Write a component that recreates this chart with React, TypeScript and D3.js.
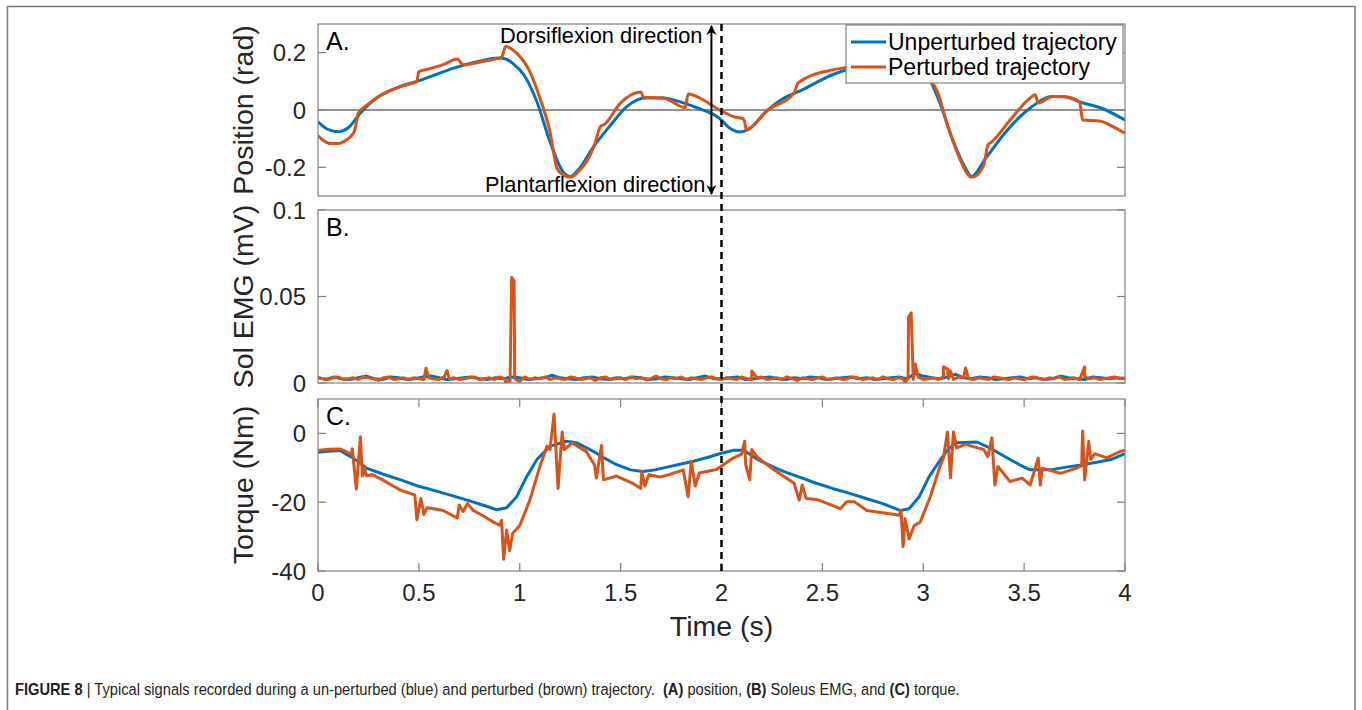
import { useRef, useEffect } from "react";
import * as d3 from "d3";

const timeTicks = [0, 0.5, 1, 1.5, 2, 2.5, 3, 3.5, 4];
const posTicks = [-0.2, 0, 0.2];
const emgTicks = [0, 0.05, 0.1];
const torqueTicks = [-40, -20, 0];

// Position (rad), [time s, value]
const posUnperturbed: [number, number][] = [
  [0, -0.041], [0.05, -0.068], [0.1, -0.076], [0.15, -0.062], [0.21, -0.01], [0.29, 0.042],
  [0.4, 0.08], [0.49, 0.1], [0.6, 0.128], [0.7, 0.152], [0.8, 0.17], [0.9, 0.181],
  [0.93, 0.178], [0.97, 0.16], [1.02, 0.123], [1.085, 0.029], [1.15, -0.111], [1.215, -0.216],
  [1.25, -0.232], [1.3, -0.2], [1.36, -0.134], [1.45, -0.053], [1.53, 0.012], [1.63, 0.043],
  [1.71, 0.042], [1.81, 0.025], [1.9, 0.002], [1.99, -0.029], [2.04, -0.063], [2.09, -0.077],
  [2.14, -0.064], [2.22, -0.006], [2.31, 0.042], [2.39, 0.067], [2.55, 0.123], [2.7, 0.155],
  [2.8, 0.17], [2.92, 0.18], [2.96, 0.165], [3.02, 0.123], [3.08, 0.029], [3.15, -0.111],
  [3.21, -0.204], [3.24, -0.232], [3.31, -0.168], [3.41, -0.076], [3.53, 0.007], [3.64, 0.047],
  [3.7, 0.046], [3.79, 0.025], [3.88, 0.007], [4.0, -0.035],
];
const posPerturbed: [number, number][] = [
  [0, -0.09], [0.03, -0.108], [0.06, -0.117], [0.1, -0.117], [0.125, -0.111], [0.18, -0.076],
  [0.2, -0.01], [0.23, 0.01], [0.29, 0.042], [0.4, 0.08], [0.49, 0.1], [0.5, 0.134],
  [0.55, 0.143], [0.62, 0.158], [0.69, 0.178], [0.72, 0.158], [0.82, 0.17], [0.91, 0.184],
  [0.93, 0.222], [0.96, 0.212], [0.99, 0.195], [1.05, 0.134], [1.1, 0.042], [1.15, -0.076],
  [1.185, -0.204], [1.215, -0.226], [1.25, -0.235], [1.29, -0.215], [1.33, -0.181], [1.37, -0.123],
  [1.4, -0.058], [1.42, -0.05], [1.5, 0.025], [1.6, 0.063], [1.615, 0.043], [1.71, 0.042],
  [1.82, 0.008], [1.835, 0.056], [1.91, 0.035], [1.99, 0.0], [2.06, -0.023], [2.11, -0.032],
  [2.125, -0.07], [2.16, -0.053], [2.22, -0.006], [2.36, 0.06], [2.38, 0.095], [2.55, 0.14],
  [2.62, 0.148], [2.75, 0.165], [2.88, 0.18], [2.92, 0.2], [2.97, 0.17], [3.03, 0.11],
  [3.07, 0.064], [3.12, -0.053], [3.14, -0.094], [3.18, -0.168], [3.24, -0.235], [3.3, -0.193],
  [3.32, -0.123], [3.34, -0.111], [3.45, -0.018], [3.53, 0.042], [3.555, 0.053], [3.57, 0.025],
  [3.64, 0.047], [3.7, 0.046], [3.775, 0.028], [3.79, -0.035], [3.88, -0.039], [3.94, -0.058],
  [4.0, -0.081],
];

// Soleus EMG (mV); unperturbed sampled every 0.04 s, perturbed every 0.025 s
const emgUnperturbed = [
  0.003, 0.002, 0.0035, 0.0025, 0.002, 0.003, 0.004, 0.0025, 0.002, 0.0035,
  0.003, 0.002, 0.0025, 0.0035, 0.004, 0.003, 0.002, 0.0025, 0.003, 0.0035,
  0.0025, 0.002, 0.003, 0.0025, 0.0035, 0.003, 0.002, 0.0025, 0.003, 0.0045,
  0.003, 0.0025, 0.002, 0.003, 0.0035, 0.0025, 0.002, 0.003, 0.0025, 0.0035,
  0.003, 0.002, 0.0025, 0.0035, 0.003, 0.0025, 0.002, 0.003, 0.004, 0.0025,
  0.0025, 0.003, 0.0035, 0.002, 0.0025, 0.003, 0.0035, 0.0025, 0.002, 0.003,
  0.0025, 0.0035, 0.003, 0.002, 0.0025, 0.003, 0.0035, 0.0025, 0.003, 0.002,
  0.0025, 0.003, 0.0035, 0.0025, 0.0055, 0.004, 0.003, 0.0025, 0.0035, 0.005,
  0.003, 0.0025, 0.0035, 0.003, 0.002, 0.0025, 0.003, 0.0035, 0.0025, 0.003,
  0.002, 0.0025, 0.004, 0.003, 0.0025, 0.002, 0.0035, 0.003, 0.0025, 0.003, 0.0025,
];
const emgPerturbedBase = [
  0.003, 0.0025, 0.002, 0.003, 0.0035, 0.002, 0.0025, 0.003, 0.002, 0.0035, 0.003, 0.0025, 0.0015, 0.003, 0.0035, 0.002, 0.0025, 0.003, 0.002, 0.003,
  0.0025, 0.002, 0.003, 0.0025, 0.002, 0.0035, 0.0025, 0.003, 0.002, 0.0025, 0.003, 0.0035, 0.002, 0.0025, 0.003, 0.002, 0.0035, 0.0025, 0.002, 0.003,
  0.001, 0.0035, 0.002, 0.003, 0.0025, 0.0035, 0.002, 0.003, 0.0025, 0.002, 0.0035, 0.003, 0.002, 0.0025, 0.003, 0.0015, 0.003, 0.0035, 0.002, 0.0025,
  0.003, 0.002, 0.0035, 0.0025, 0.003, 0.002, 0.0025, 0.004, 0.0025, 0.002, 0.003, 0.0025, 0.0035, 0.002, 0.003, 0.0025, 0.002, 0.003, 0.0035, 0.0025,
  0.002, 0.003, 0.0025, 0.002, 0.0035, 0.0025, 0.002, 0.003, 0.0035, 0.002, 0.0025, 0.003, 0.002, 0.0035, 0.0025, 0.0015, 0.003, 0.0025, 0.002, 0.003,
  0.0035, 0.002, 0.0025, 0.003, 0.002, 0.0025, 0.0035, 0.003, 0.002, 0.0025, 0.003, 0.002, 0.0035, 0.0025, 0.002, 0.003, 0.0025, 0.003, 0.002, 0.0035,
  0.002, 0.0025, 0.003, 0.002, 0.0035, 0.0025, 0.002, 0.0035, 0.003, 0.0025, 0.002, 0.003, 0.0025, 0.002, 0.0035, 0.003, 0.0025, 0.002, 0.003, 0.0025,
  0.002, 0.003, 0.0035, 0.0025, 0.002, 0.003, 0.0025, 0.0035, 0.002, 0.0025, 0.003, 0.002, 0.0035, 0.0025, 0.003, 0.002, 0.0025, 0.003, 0.0035, 0.0025,
  0.003,
];
const emgPerturbedBursts: [number, number][] = [
  [0.535, 0.0085], [0.64, 0.0072], [0.93, 0.0], [0.952, 0.001], [0.96, 0.061], [0.972, 0.059],
  [0.98, 0.002], [2.15, 0.007], [2.91, 0.0], [2.927, 0.038], [2.94, 0.0405], [2.948, 0.012],
  [2.96, 0.011], [3.1, 0.0094], [3.12, 0.008], [3.135, 0.007], [3.21, 0.0087], [3.8, 0.0093],
];

// Torque (Nm)
const torqueUnperturbed: [number, number][] = [
  [0, -5.5], [0.05, -5.2], [0.11, -5.0], [0.175, -7.2], [0.24, -10.1], [0.32, -11.8], [0.41, -13.5],
  [0.49, -15.2], [0.57, -16.5], [0.66, -18.0], [0.74, -19.4], [0.82, -20.9], [0.885, -22.2],
  [0.935, -21.6], [0.985, -18.4], [1.035, -12.5], [1.085, -7.6], [1.15, -3.7], [1.23, -2.3],
  [1.28, -2.7], [1.365, -5.2], [1.42, -7.2], [1.48, -9.1], [1.55, -10.6], [1.61, -11.1],
  [1.67, -10.6], [1.73, -9.8], [1.8, -8.9], [1.86, -8.1], [1.93, -7.0], [1.99, -5.9], [2.06, -4.9],
  [2.11, -4.9], [2.18, -7.6], [2.25, -9.6], [2.31, -11.1], [2.39, -12.8], [2.47, -14.5],
  [2.55, -16.0], [2.64, -17.5], [2.72, -19.0], [2.8, -20.4], [2.885, -22.4], [2.93, -21.9],
  [2.98, -18.4], [3.03, -12.5], [3.08, -8.1], [3.12, -4.8], [3.165, -2.7], [3.265, -2.5],
  [3.33, -4.2], [3.38, -5.9], [3.43, -7.6], [3.48, -9.2], [3.53, -10.6], [3.63, -10.6],
  [3.71, -9.8], [3.79, -9.1], [3.86, -8.4], [3.93, -7.6], [4.0, -5.9],
];
const torquePerturbed: [number, number][] = [
  [0, -5.0], [0.05, -4.6], [0.11, -4.5], [0.165, -6.0], [0.17, -4.5], [0.19, -16.2], [0.21, -1.0],
  [0.22, -12.4], [0.23, -10.1], [0.24, -12.3], [0.27, -12.0], [0.32, -13.5], [0.37, -15.2],
  [0.41, -16.5], [0.48, -17.9], [0.49, -25.1], [0.51, -18.9], [0.525, -23.6], [0.54, -21.6],
  [0.58, -22.0], [0.62, -22.4], [0.69, -24.6], [0.7, -20.8], [0.72, -22.7], [0.74, -20.4],
  [0.77, -22.4], [0.82, -24.0], [0.87, -25.8], [0.9, -26.7], [0.91, -25.3], [0.92, -36.6],
  [0.935, -28.1], [0.95, -34.1], [0.965, -29.0], [1.0, -26.8], [1.05, -19.4], [1.1, -9.6],
  [1.135, -3.7], [1.15, -4.7], [1.17, 5.6], [1.19, -16.0], [1.21, 0.4], [1.22, -4.7],
  [1.26, -2.8], [1.33, -5.3], [1.37, -9.1], [1.38, -13.0], [1.405, -3.5], [1.415, -13.5],
  [1.48, -12.4], [1.56, -14.5], [1.6, -16.0], [1.605, -11.1], [1.62, -15.3], [1.64, -12.0],
  [1.695, -12.7], [1.75, -11.8], [1.81, -10.6], [1.835, -18.4], [1.85, -8.1], [1.87, -15.3],
  [1.89, -11.5], [1.975, -10.5], [2.06, -7.1], [2.1, -6.0], [2.115, -2.3], [2.12, -9.1],
  [2.14, -13.5], [2.15, -4.7], [2.18, -7.1], [2.26, -10.6], [2.36, -14.5], [2.385, -19.4],
  [2.4, -15.0], [2.42, -18.9], [2.47, -19.2], [2.53, -20.5], [2.59, -21.9], [2.62, -19.9],
  [2.66, -19.9], [2.72, -22.4], [2.85, -23.5], [2.88, -23.8], [2.89, -22.4], [2.9, -32.9],
  [2.91, -24.8], [2.93, -30.7], [2.955, -26.8], [2.985, -25.8], [3.035, -18.4], [3.08, -10.1],
  [3.1, -7.1], [3.12, 0.4], [3.135, -12.9], [3.15, 0.4], [3.165, -4.2], [3.21, -3.2], [3.3, -4.7],
  [3.32, -6.8], [3.34, -1.3], [3.355, -15.0], [3.37, -9.6], [3.43, -14.0], [3.49, -13.0],
  [3.53, -15.0], [3.57, -7.2], [3.58, -15.0], [3.59, -10.1], [3.62, -10.6], [3.68, -11.6],
  [3.76, -10.1], [3.785, -9.4], [3.79, 0.7], [3.8, -13.5], [3.82, -2.3], [3.83, -7.6],
  [3.85, -5.9], [3.91, -7.1], [3.97, -5.4], [4.0, -4.9],
];

const BLUE = "#0072BD";
const ORANGE = "#D95319";
const AXIS = "#262626";
const FONT = "'Liberation Sans', Arial, Helvetica, sans-serif";

export default function App() {
  const ref = useRef<SVGSVGElement>(null);

  function init() {
    const svg = d3.select(ref.current);
    svg.selectAll("*").remove();

    const left = 318, right = 1125;
    const x = d3.scaleLinear().domain([0, 4]).range([left, right]);

    // outer figure frame
    svg.append("rect")
      .attr("x", 7.5).attr("y", 6.5).attr("width", 1347.5).attr("height", 720)
      .attr("fill", "none").attr("stroke", "#7a7a7a").attr("stroke-width", 1.5);

    const panels = [
      { key: "A", top: 24, bottom: 196, domain: [-0.3, 0.3], ticks: posTicks, label: "Position (rad)",
        series: [posUnperturbed, posPerturbed], curve: d3.curveMonotoneX, xTicks: false },
      { key: "B", top: 210, bottom: 383, domain: [0, 0.1], ticks: emgTicks, label: "Sol EMG (mV)",
        series: [
          emgUnperturbed.map((v, i) => [i * 0.04, v] as [number, number]),
          d3.sort(emgPerturbedBase.map((v, i) => [i * 0.025, v] as [number, number]).concat(emgPerturbedBursts), (d) => d[0]),
        ], curve: d3.curveLinear, xTicks: false },
      { key: "C", top: 399, bottom: 571, domain: [-40, 10], ticks: torqueTicks, label: "Torque (Nm)",
        series: [torqueUnperturbed, torquePerturbed], curve: d3.curveLinear, xTicks: true },
    ];

    panels.forEach((p) => {
      const y = d3.scaleLinear().domain(p.domain).range([p.bottom, p.top]);
      const g = svg.append("g");
      const clipId = "clip" + p.key;
      svg.append("clipPath").attr("id", clipId)
        .append("rect").attr("x", left).attr("y", p.top).attr("width", right - left).attr("height", p.bottom - p.top);

      if (p.key === "A") {
        g.append("line")
          .attr("x1", left).attr("x2", right).attr("y1", y(0)).attr("y2", y(0))
          .attr("stroke", AXIS).attr("stroke-width", 1);
      }

      const line = d3.line<[number, number]>().x((d) => x(d[0])).y((d) => y(d[1])).curve(p.curve);
      p.series.forEach((s, i) => {
        g.append("path")
          .datum(s)
          .attr("d", line)
          .attr("clip-path", `url(#${clipId})`)
          .attr("fill", "none")
          .attr("stroke", i === 0 ? BLUE : ORANGE)
          .attr("stroke-width", 3)
          .attr("stroke-linejoin", "round");
      });

      // box
      g.append("rect")
        .attr("x", left).attr("y", p.top).attr("width", right - left).attr("height", p.bottom - p.top)
        .attr("fill", "none").attr("stroke", "#808080").attr("stroke-width", 1.2);

      // y ticks (inside, both sides)
      p.ticks.forEach((t) => {
        const yy = y(t);
        g.append("line").attr("x1", left).attr("x2", left + 8).attr("y1", yy).attr("y2", yy).attr("stroke", "#808080").attr("stroke-width", 1.2);
        g.append("line").attr("x1", right - 8).attr("x2", right).attr("y1", yy).attr("y2", yy).attr("stroke", "#808080").attr("stroke-width", 1.2);
        g.append("text")
          .attr("x", left - 12).attr("y", yy).attr("dy", "0.36em")
          .attr("text-anchor", "end").attr("font-family", FONT).attr("font-size", 24).attr("fill", AXIS)
          .text(String(t));
      });

      if (p.xTicks) {
        timeTicks.forEach((t) => {
          const xx = x(t);
          g.append("line").attr("x1", xx).attr("x2", xx).attr("y1", p.bottom).attr("y2", p.bottom - 8).attr("stroke", "#808080").attr("stroke-width", 1.2);
          g.append("line").attr("x1", xx).attr("x2", xx).attr("y1", p.top).attr("y2", p.top + 8).attr("stroke", "#808080").attr("stroke-width", 1.2);
          g.append("text")
            .attr("x", xx).attr("y", p.bottom + 30)
            .attr("text-anchor", "middle").attr("font-family", FONT).attr("font-size", 24).attr("fill", AXIS)
            .text(String(t));
        });
      }

      // panel letter
      g.append("text")
        .attr("x", left + 8).attr("y", p.top + 26)
        .attr("font-family", FONT).attr("font-size", 25).attr("fill", "#000")
        .text(p.key + ".");

      // y label
      g.append("text")
        .attr("transform", `translate(253, ${(p.top + p.bottom) / 2}) rotate(-90)`)
        .attr("text-anchor", "middle").attr("font-family", FONT).attr("font-size", 28.5).attr("fill", AXIS)
        .text(p.label);
    });

    // x label
    svg.append("text")
      .attr("x", (left + right) / 2).attr("y", 636)
      .attr("text-anchor", "middle").attr("font-family", FONT).attr("font-size", 28.5).attr("fill", AXIS)
      .text("Time (s)");

    // dashed marker at t = 2 s
    svg.append("line")
      .attr("x1", x(2)).attr("x2", x(2)).attr("y1", 24).attr("y2", 575)
      .attr("stroke", "#000").attr("stroke-width", 2.5).attr("stroke-dasharray", "7,5");

    // direction arrow
    const ax = x(1.95);
    svg.append("defs").html(
      `<marker id="ah" viewBox="0 0 10 10" refX="9" refY="5" markerWidth="5" markerHeight="6" orient="auto-start-reverse"><path d="M0,0 L10,5 L0,10 L3,5 z" fill="#000"/></marker>`
    );
    svg.append("line")
      .attr("x1", ax).attr("x2", ax).attr("y1", 194).attr("y2", 26)
      .attr("stroke", "#000").attr("stroke-width", 2)
      .attr("marker-start", "url(#ah)").attr("marker-end", "url(#ah)");
    svg.append("text")
      .attr("x", ax - 9).attr("y", 43).attr("text-anchor", "end")
      .attr("font-family", FONT).attr("font-size", 21.8).attr("fill", "#000")
      .text("Dorsiflexion direction");
    svg.append("text")
      .attr("x", ax - 6).attr("y", 192).attr("text-anchor", "end")
      .attr("font-family", FONT).attr("font-size", 21.8).attr("fill", "#000")
      .text("Plantarflexion direction");

    // legend
    const lg = svg.append("g");
    lg.append("rect").attr("x", 846).attr("y", 25).attr("width", 277).attr("height", 58)
      .attr("fill", "#fff").attr("stroke", "#808080").attr("stroke-width", 1.2);
    [["Unperturbed trajectory", BLUE], ["Perturbed trajectory", ORANGE]].forEach(([name, col], i) => {
      const yy = 42 + i * 25;
      lg.append("line").attr("x1", 851).attr("x2", 886).attr("y1", yy).attr("y2", yy)
        .attr("stroke", col).attr("stroke-width", 3);
      lg.append("text").attr("x", 888).attr("y", yy).attr("dy", "0.36em")
        .attr("font-family", FONT).attr("font-size", 23).attr("fill", "#000").text(name);
    });

    // caption (condensed look via horizontal scale)
    const cap = svg.append("g")
      .attr("transform", "translate(15, 695) scale(0.9, 1)")
      .append("text")
      .attr("x", 0).attr("y", 0)
      .attr("font-family", FONT)
      .attr("font-size", 16.3).attr("fill", "#231f20");
    const parts: [string, boolean][] = [
      ["FIGURE 8", true], [" | Typical signals recorded during a un-perturbed (blue) and perturbed (brown) trajectory.  ", false],
      ["(A)", true], [" position, ", false], ["(B)", true], [" Soleus EMG, and ", false], ["(C)", true], [" torque.", false],
    ];
    parts.forEach(([t, b]) => {
      cap.append("tspan").attr("font-weight", b ? "bold" : "normal").attr("xml:space", "preserve").text(t);
    });
  }

  useEffect(init, []);

  return (
    <svg ref={ref} width={1362} height={710}
      style={{ position: "absolute", left: 0, top: 0, background: "#fff" }} />
  );
}
